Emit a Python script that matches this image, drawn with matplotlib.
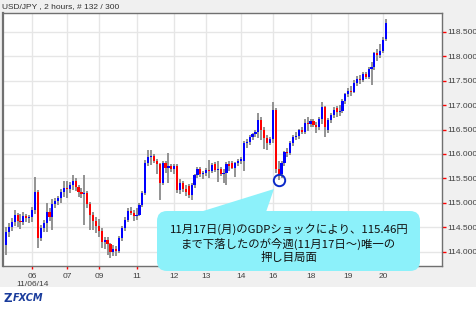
import matplotlib
matplotlib.use('Agg')
import matplotlib.pyplot as plt
from matplotlib.patches import Rectangle, FancyBboxPatch, Polygon

# USD/JPY 2時間足 132本 (チャートから目測)
opens = [114.14, 114.40, 114.50, 114.60, 114.74, 114.62, 114.60, 114.72, 114.68, 114.70,
         114.86, 115.22, 114.28, 114.48, 114.58, 114.82, 114.70, 114.98, 115.04, 115.10,
         115.22, 115.30, 115.28, 115.36, 115.44, 115.32, 115.22, 115.18, 115.20, 114.98,
         114.76, 114.62, 114.52, 114.42, 114.20, 114.24, 114.16, 114.00, 114.06, 114.02,
         114.28, 114.48, 114.65, 114.84, 114.80, 114.72, 114.76, 114.96, 115.20, 115.82,
         115.94, 115.96, 115.86, 115.80, 115.40, 115.82, 115.72, 115.76, 115.70, 115.76,
         115.26, 115.40, 115.28, 115.34, 115.16, 115.36, 115.57, 115.70, 115.58, 115.62,
         115.68, 115.66, 115.80, 115.68, 115.70, 115.58, 115.62, 115.80, 115.82, 115.72,
         115.82, 115.86, 115.86, 116.22, 116.25, 116.35, 116.40, 116.46, 116.70, 116.50,
         116.32, 116.22, 116.30, 116.90, 115.70, 115.58, 115.82, 116.04, 116.02, 116.23,
         116.34, 116.36, 116.49, 116.46, 116.64, 116.62, 116.68, 116.60, 116.56, 116.72,
         116.96, 116.50, 116.70, 116.80, 116.94, 116.86, 116.88, 117.08, 117.22, 117.30,
         117.28, 117.46, 117.54, 117.52, 117.64, 117.58, 117.74, 117.78, 118.06, 118.02,
         118.12, 118.36]
highs = [114.50, 114.58, 114.68, 114.86, 114.80, 114.78, 114.82, 114.78, 114.76, 114.92,
         115.52, 115.26, 114.55, 114.64, 115.00, 114.90, 115.08, 115.10, 115.14, 115.28,
         115.45, 115.45, 115.42, 115.56, 115.50, 115.36, 115.30, 115.56, 115.24, 115.02,
         114.82, 114.70, 114.66, 114.48, 114.30, 114.30, 114.18, 114.14, 114.12, 114.32,
         114.52, 114.70, 114.90, 114.92, 114.85, 114.90, 115.00, 115.24, 115.88, 116.08,
         116.08, 116.00, 115.90, 115.82, 115.86, 115.86, 116.02, 115.80, 115.80, 115.80,
         115.48, 115.44, 115.36, 115.38, 115.40, 115.60, 115.74, 115.74, 115.66, 115.72,
         115.88, 115.82, 115.84, 115.86, 115.74, 115.70, 115.84, 115.86, 115.86, 115.84,
         115.90, 115.94, 116.26, 116.30, 116.38, 116.44, 116.50, 116.84, 116.76, 116.56,
         116.38, 116.34, 117.07, 116.94, 115.86, 115.86, 116.06, 116.12, 116.26, 116.38,
         116.46, 116.52, 116.56, 116.72, 116.76, 116.72, 116.72, 116.66, 116.76, 117.06,
         116.98, 116.74, 116.84, 116.96, 116.98, 117.00, 117.12, 117.26, 117.36, 117.40,
         117.52, 117.60, 117.62, 117.68, 117.68, 117.78, 117.88, 118.10, 118.16, 118.26,
         118.40, 118.76]
lows = [113.93, 114.30, 114.42, 114.52, 114.50, 114.46, 114.55, 114.60, 114.58, 114.60,
        114.78, 114.07, 114.22, 114.40, 114.40, 114.62, 114.45, 114.90, 114.96, 115.00,
        115.12, 115.10, 115.20, 115.26, 115.25, 115.12, 115.10, 114.55, 114.90, 114.45,
        114.44, 114.38, 114.30, 114.08, 114.05, 113.93, 113.87, 113.90, 113.92, 113.98,
        114.22, 114.42, 114.60, 114.74, 114.62, 114.65, 114.72, 114.92, 115.15, 115.75,
        115.78, 115.82, 115.60, 115.06, 115.36, 115.62, 115.41, 115.64, 115.60, 115.20,
        115.18, 115.22, 115.14, 115.10, 115.06, 115.30, 115.50, 115.52, 115.48, 115.55,
        115.50, 115.62, 115.64, 115.43, 115.54, 115.40, 115.36, 115.66, 115.70, 115.52,
        115.76, 115.80, 115.66, 116.12, 116.18, 116.28, 116.34, 116.33, 116.28, 116.10,
        116.08, 116.18, 116.22, 115.62, 115.46, 115.50, 115.76, 115.94, 115.98, 116.16,
        116.28, 116.30, 116.40, 116.40, 116.48, 116.56, 116.56, 116.44, 116.50, 116.62,
        116.34, 116.44, 116.64, 116.74, 116.76, 116.78, 116.84, 117.02, 117.16, 117.18,
        117.24, 117.40, 117.44, 117.48, 117.54, 117.54, 117.41, 117.72, 117.90, 117.96,
        118.06, 118.32]
closes = [114.40, 114.50, 114.60, 114.74, 114.62, 114.60, 114.72, 114.68, 114.70, 114.86,
          115.22, 114.28, 114.48, 114.58, 114.82, 114.70, 114.98, 115.04, 115.10, 115.22,
          115.30, 115.28, 115.36, 115.44, 115.32, 115.22, 115.18, 115.20, 114.98, 114.76,
          114.62, 114.52, 114.42, 114.20, 114.24, 114.16, 114.00, 114.06, 114.02, 114.28,
          114.48, 114.65, 114.84, 114.80, 114.72, 114.76, 114.96, 115.20, 115.82, 115.94,
          115.96, 115.86, 115.80, 115.40, 115.82, 115.72, 115.76, 115.70, 115.76, 115.26,
          115.40, 115.28, 115.22, 115.16, 115.36, 115.57, 115.70, 115.58, 115.62, 115.68,
          115.66, 115.78, 115.68, 115.70, 115.58, 115.62, 115.80, 115.76, 115.72, 115.82,
          115.86, 115.90, 116.22, 116.25, 116.35, 116.40, 116.46, 116.70, 116.50, 116.32,
          116.22, 116.30, 116.90, 115.70, 115.58, 115.82, 116.04, 116.02, 116.23, 116.34,
          116.36, 116.49, 116.46, 116.64, 116.62, 116.68, 116.60, 116.56, 116.72, 116.96,
          116.56, 116.70, 116.80, 116.90, 116.86, 116.88, 117.08, 117.22, 117.30, 117.28,
          117.46, 117.54, 117.52, 117.64, 117.58, 117.74, 117.78, 118.06, 118.02, 118.12,
          118.34, 118.68]

# 日付の区切り (バー番号) とラベル
day_bars = [9, 21, 32, 45, 58, 69, 81, 92, 105, 118, 130]
day_labels = ['06', '07', '09', '11', '12', '13', '14', '16', '18', '19', '20']
price_ticks = [114.0, 114.5, 115.0, 115.5, 116.0, 116.5, 117.0, 117.5, 118.0, 118.5]

mark_bar = 94  # 115.46円の安値
note = '11月17日(月)のGDPショックにより、115.46円\nまで下落したのが今週(11月17日～)唯一の\n押し目局面'

W, H = 477, 309
fig = plt.figure(figsize=(W / 100, H / 100), dpi=100)
fig.patch.set_facecolor('white')


def px(x, y):
    # 画像のピクセル座標 -> インチ
    return (x / 100, (H - y) / 100)


# 背景のグレー部分
fig.patches.append(Rectangle(px(0, 287), W / 100, 287 / 100, transform=fig.dpi_scale_trans,
                             facecolor='#f0f0f0', edgecolor='none', zorder=-5))

ax = fig.add_axes([3 / W, 1 - 266 / H, 439 / W, 253 / H])
ax.set_facecolor('white')

idx = list(range(len(closes)))
ax.vlines(idx, lows, highs, color='#8a8a8a', lw=1.3, zorder=2)
body_col = ['#0000ff' if c >= o else '#ff0000' for o, c in zip(opens, closes)]
ax.bar(idx, [abs(c - o) for o, c in zip(opens, closes)],
       bottom=[min(o, c) for o, c in zip(opens, closes)],
       width=0.75, color=body_col, zorder=3)

# 安値の丸印
ax.plot(mark_bar, lows[mark_bar], 'o', ms=8.2, mfc='none', mec='#0a28c8', mew=1.4, zorder=4)

ax.set_xlim(-1.03, 150.3)
ax.set_ylim(113.705, 118.889)

ax.yaxis.tick_right()
ax.set_yticks(price_ticks)
ax.set_yticklabels(['%.3f' % v for v in price_ticks])
ax.set_xticks(day_bars)
ax.set_xticklabels(day_labels)
ax.tick_params(axis='y', colors='#ff0000', length=3, width=1, labelsize=6, labelcolor='#404040', pad=1)
ax.tick_params(axis='x', colors='#ff0000', length=2, width=1, labelsize=6, labelcolor='#404040', pad=3)
for lab in ax.get_xticklabels() + ax.get_yticklabels():
    lab.set_family('Liberation Sans')

ax.grid(color='#e6e6e6', lw=1)
ax.set_axisbelow(True)
for s in ax.spines.values():
    s.set_color('#707070')
    s.set_linewidth(1)
ax.spines['left'].set_linewidth(1.6)

ax.annotate('11/06/14', xy=(day_bars[0], 0), xycoords=('data', 'axes fraction'),
            xytext=(0, -18), textcoords='offset pixels', ha='center', va='center',
            fontsize=6, color='#404040', family='Liberation Sans')

fig.text(2 / W, 1 - 7 / H, 'USD/JPY , 2 hours, # 132 / 300', fontsize=6,
         color='#303030', va='center', family='Liberation Sans')

# 吹き出し
cyan = '#8cf1fa'
box = FancyBboxPatch(px(157, 271), 263 / 100, 60 / 100, boxstyle='round,pad=0,rounding_size=0.1',
                     transform=fig.dpi_scale_trans, facecolor=cyan, edgecolor='none', zorder=10)
fig.patches.append(box)
tri = Polygon([px(200, 212), px(274, 189), px(266, 212)], closed=True,
              transform=fig.dpi_scale_trans, facecolor=cyan, edgecolor='none', zorder=10)
fig.patches.append(tri)
fig.text(289 / W, 1 - 243 / H, note, ha='center', va='center', fontsize=8.2,
         linespacing=1.27, color='#111111', family=['Noto Sans CJK JP', 'DejaVu Sans'], zorder=11)

# ロゴ
fig.text(3 / W, 1 - 298 / H, 'Z', fontsize=8.5, fontweight='bold', color='#1a3c9c',
         va='center', family='DejaVu Sans')
fig.text(13 / W, 1 - 298 / H, 'FXCM', fontsize=7, fontweight='bold', style='italic',
         color='#1a3c9c', va='center', family='DejaVu Sans')

fig.savefig('out.png', dpi=100)
